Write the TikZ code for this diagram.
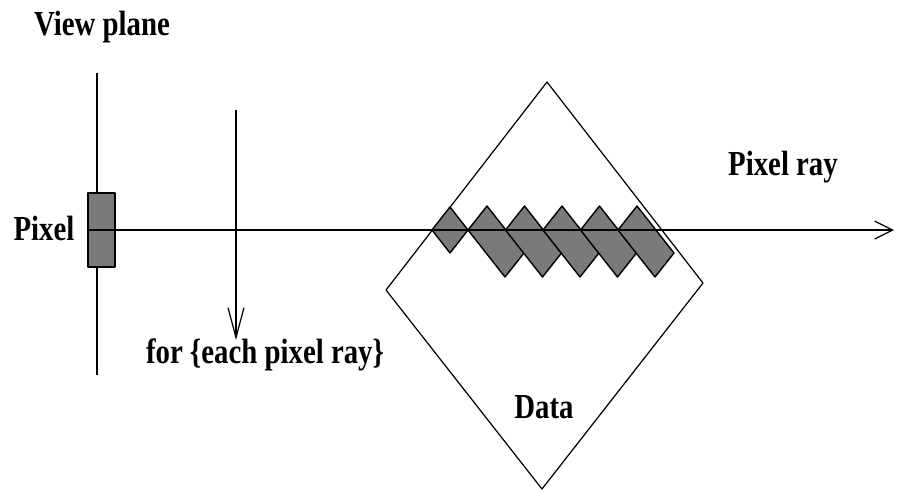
\documentclass[tikz,border=0pt]{standalone}
\usepackage{fontspec}
\setmainfont{Liberation Serif}[FakeStretch=0.82]
\usetikzlibrary{arrows.meta}

\begin{document}
\begin{tikzpicture}[x=0.02cm,y=-0.02cm,line width=0.7pt]
\tikzstyle{every node}=[font=\bfseries\fontsize{20}{24}\selectfont, inner sep=0pt]
\tikzstyle{cell}=[draw=black, fill=black!52, line width=0.8pt, line join=round]
\useasboundingbox (0,0) rectangle (897,491);
% view plane with its pixel
\node[anchor=base] (plane) at (102,35) {View plane};
\coordinate (ptop) at (97,73);
\coordinate (pbot) at (97,375);
\draw (ptop) -- (pbot);
\node[cell, minimum width=0.54cm, minimum height=1.48cm] (pix) at (101.5,230) {};
\node[anchor=base] (pixlbl) at (44,240) {Pixel};
% loop over the rays
\coordinate (ltop) at (236,110);
\coordinate (lbot) at (236,340);
\draw[-{Straight Barb[length=0.6cm,width=0.32cm]}] (ltop) -- (lbot);
\node[anchor=base] (loop) at (265,363) {for \{each pixel ray\}};
% data volume
\draw[line join=round] (547,82) coordinate (dtop) -- (703,283) coordinate (dright)
  -- (542,489) coordinate (dbot) -- (386,290) coordinate (dleft) -- cycle;
\node[anchor=base] (data) at (544,418) {Data};
% samples along the ray
\draw[cell] (432,230) -- (450,207) -- (468,230) -- (450,253) -- cycle;
\foreach \k in {0,...,4}
  \draw[cell] ({468+37.5*\k},230) -- ({487+37.5*\k},206) -- ({524+37.5*\k},253)
    -- ({505+37.5*\k},277) -- cycle;
% the ray itself
\coordinate (rayend) at (894,230);
\draw[-{Straight Barb[length=0.36cm,width=0.36cm]}] (pix.west) -- (rayend);
\node[anchor=base] (raylbl) at (783,175) {Pixel ray};
\end{tikzpicture}
\end{document}
